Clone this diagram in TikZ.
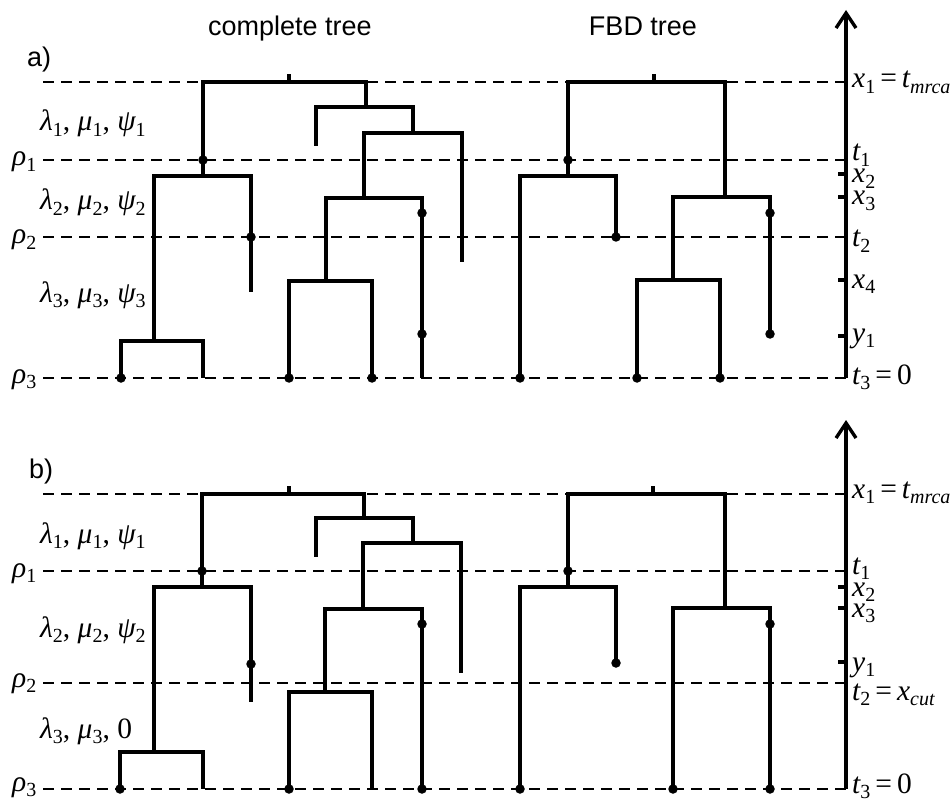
\documentclass[tikz,border=0pt]{standalone}
\usepackage{fontspec}
\setmainfont{Liberation Sans}
\newfontfamily\tms{Liberation Serif}
\usetikzlibrary{arrows.meta}
\newcommand{\iv}[1]{{\itshape #1}}
\newcommand{\sbs}[1]{\raisebox{-5.5pt}{\fontsize{20}{20}\selectfont #1}}
\newcommand{\eqs}{\hspace{5pt}={}\hspace{5pt}}
\tikzset{
  br/.style={line width=3.4pt},
  dl/.style={line width=2.4pt, dash pattern=on 11pt off 7pt},
  axisline/.style={line width=3.4pt, -{Straight Barb[length=15pt,width=20pt,line width=3.4pt]}},
  tk/.style={line width=3.4pt},
  dot/.style={circle, fill=black, inner sep=0pt, minimum size=9.5pt},
  mlab/.style={font=\tms\fontsize{29.5}{31}\selectfont, inner sep=0pt, anchor=base west},
  slab/.style={font=\fontsize{27}{29}\selectfont, inner sep=0pt, anchor=base},
}
\begin{document}
\begin{tikzpicture}[x=1pt,y=-1pt]
\useasboundingbox (0,0) rectangle (950,802);
\fill[white] (0,0) rectangle (950,802);

% ---------------- titles ----------------
\node[slab] (ttlA) at (290,36) {complete tree};
\node[slab] (ttlB) at (643,36) {FBD tree};
\node[slab, anchor=base west] (pa) at (27,67) {a)};
\node[slab, anchor=base west] (pb) at (29,478) {b)};

% ================= PANEL A =================
\foreach \yy in {82,160,237,378} \draw[dl] (43,\yy) -- (846,\yy);
\coordinate (aAxB) at (846,378);
\coordinate (aAxT) at (846,10);
\draw[axisline] (aAxB) -- (aAxT);
\foreach \yy in {174,197,280,336} \draw[tk] (846,\yy) -- (838,\yy);

% complete tree a
\coordinate (aR) at (289,82);
\coordinate (aRt) at (289,74);
\coordinate (aA) at (203,176);
\coordinate (aB) at (366,107);
\coordinate (aA1) at (154,341);
\coordinate (aA2) at (251,292);
\coordinate (aL1) at (121,378);
\coordinate (aL2) at (203,378);
\coordinate (aB1) at (316,146);
\coordinate (aB2) at (413,133);
\coordinate (aC1) at (364,198);
\coordinate (aC2) at (462,262);
\coordinate (aD1) at (326,281);
\coordinate (aD2) at (422,378);
\coordinate (aL3) at (289,378);
\coordinate (aL4) at (372,378);
\draw[br] (aR) -- (aRt);
\draw[br] (aR) -| (aA);
\draw[br] (aR) -| (aB);
\draw[br] (aA) -| (aA1);
\draw[br] (aA) -| (aA2);
\draw[br] (aA1) -| (aL1);
\draw[br] (aA1) -| (aL2);
\draw[br] (aB) -| (aB1);
\draw[br] (aB) -| (aB2);
\draw[br] (aB2) -| (aC1);
\draw[br] (aB2) -| (aC2);
\draw[br] (aC1) -| (aD1);
\draw[br] (aC1) -| (aD2);
\draw[br] (aD1) -| (aL3);
\draw[br] (aD1) -| (aL4);
\node[dot] (adot1) at (203,160) {};
\node[dot] (adot2) at (251,237) {};
\node[dot] (adot3) at (121,378) {};
\node[dot] (adot4) at (289,378) {};
\node[dot] (adot5) at (372,378) {};
\node[dot] (adot6) at (422,213) {};
\node[dot] (adot7) at (422,334) {};

% FBD tree a
\coordinate (fR) at (654,82);
\coordinate (fRt) at (654,74);
\coordinate (fE) at (568,176);
\coordinate (fF) at (725,197);
\coordinate (fE1) at (520,378);
\coordinate (fE2) at (616,237);
\coordinate (fG) at (673,280);
\coordinate (fH) at (770,334);
\coordinate (fG1) at (637,378);
\coordinate (fG2) at (720,378);
\draw[br] (fR) -- (fRt);
\draw[br] (fR) -| (fE);
\draw[br] (fR) -| (fF);
\draw[br] (fE) -| (fE1);
\draw[br] (fE) -| (fE2);
\draw[br] (fF) -| (fG);
\draw[br] (fF) -| (fH);
\draw[br] (fG) -| (fG1);
\draw[br] (fG) -| (fG2);
\node[dot] (fdot1) at (568,160) {};
\node[dot] (fdot2) at (520,378) {};
\node[dot] (fdot3) at (616,237) {};
\node[dot] (fdot4) at (770,213) {};
\node[dot] (fdot5) at (770,334) {};
\node[dot] (fdot6) at (637,378) {};
\node[dot] (fdot7) at (720,378) {};

% labels a
\node[mlab] (ar1) at (12,166) {\iv{ρ}\sbs{1}};
\node[mlab] (ar2) at (12,244) {\iv{ρ}\sbs{2}};
\node[mlab] (ar3) at (12,383) {\iv{ρ}\sbs{3}};
\node[mlab] (al1) at (40,131) {\iv{λ}\sbs{1}, \iv{μ}\sbs{1}, \iv{ψ}\sbs{1}};
\node[mlab] (al2) at (40,210) {\iv{λ}\sbs{2}, \iv{μ}\sbs{2}, \iv{ψ}\sbs{2}};
\node[mlab] (al3) at (40,302) {\iv{λ}\sbs{3}, \iv{μ}\sbs{3}, \iv{ψ}\sbs{3}};
\node[mlab] (ax1) at (852,88) {\iv{x}\sbs{1}\eqs\iv{t}\sbs{\itshape mrca}};
\node[mlab] (at1) at (852,161) {\iv{t}\sbs{1}};
\node[mlab] (ax2) at (852,183) {\iv{x}\sbs{2}};
\node[mlab] (ax3) at (852,205) {\iv{x}\sbs{3}};
\node[mlab] (at2) at (852,247) {\iv{t}\sbs{2}};
\node[mlab] (ax4) at (852,288) {\iv{x}\sbs{4}};
\node[mlab] (ay1) at (852,342) {\iv{y}\sbs{1}};
\node[mlab] (at3) at (852,384) {\iv{t}\sbs{3}\eqs 0};

% ================= PANEL B =================
\foreach \yy in {494,571,683,789} \draw[dl] (43,\yy) -- (846,\yy);
\coordinate (bAxB) at (846,789);
\coordinate (bAxT) at (846,420);
\draw[axisline] (bAxB) -- (bAxT);
\foreach \yy in {587,608,662} \draw[tk] (846,\yy) -- (838,\yy);

% complete tree b
\coordinate (bR) at (289,494);
\coordinate (bRt) at (289,486);
\coordinate (bA) at (202,587);
\coordinate (bB) at (364,518);
\coordinate (bA1) at (154,752);
\coordinate (bA2) at (251,702);
\coordinate (bL1) at (120,789);
\coordinate (bL2) at (203,789);
\coordinate (bB1) at (316,557);
\coordinate (bB2) at (413,543);
\coordinate (bC1) at (363,609);
\coordinate (bC2) at (461,673);
\coordinate (bD1) at (325,692);
\coordinate (bD2) at (422,789);
\coordinate (bL3) at (289,789);
\coordinate (bL4) at (372,789);
\draw[br] (bR) -- (bRt);
\draw[br] (bR) -| (bA);
\draw[br] (bR) -| (bB);
\draw[br] (bA) -| (bA1);
\draw[br] (bA) -| (bA2);
\draw[br] (bA1) -| (bL1);
\draw[br] (bA1) -| (bL2);
\draw[br] (bB) -| (bB1);
\draw[br] (bB) -| (bB2);
\draw[br] (bB2) -| (bC1);
\draw[br] (bB2) -| (bC2);
\draw[br] (bC1) -| (bD1);
\draw[br] (bC1) -| (bD2);
\draw[br] (bD1) -| (bL3);
\draw[br] (bD1) -| (bL4);
\node[dot] (bdot1) at (202,571) {};
\node[dot] (bdot2) at (251,664) {};
\node[dot] (bdot3) at (120,789) {};
\node[dot] (bdot4) at (289,789) {};
\node[dot] (bdot5) at (422,624) {};
\node[dot] (bdot6) at (422,789) {};

% FBD tree b
\coordinate (gR) at (653,494);
\coordinate (gRt) at (653,486);
\coordinate (gE) at (568,587);
\coordinate (gF) at (725,608);
\coordinate (gE1) at (520,789);
\coordinate (gE2) at (616,663);
\coordinate (gF1) at (673,789);
\coordinate (gF2) at (770,789);
\draw[br] (gR) -- (gRt);
\draw[br] (gR) -| (gE);
\draw[br] (gR) -| (gF);
\draw[br] (gE) -| (gE1);
\draw[br] (gE) -| (gE2);
\draw[br] (gF) -| (gF1);
\draw[br] (gF) -| (gF2);
\node[dot] (gdot1) at (568,571) {};
\node[dot] (gdot2) at (520,789) {};
\node[dot] (gdot3) at (616,663) {};
\node[dot] (gdot4) at (673,789) {};
\node[dot] (gdot5) at (770,624) {};
\node[dot] (gdot6) at (770,789) {};

% labels b
\node[mlab] (br1) at (12,577) {\iv{ρ}\sbs{1}};
\node[mlab] (br2) at (12,687) {\iv{ρ}\sbs{2}};
\node[mlab] (br3) at (12,791) {\iv{ρ}\sbs{3}};
\node[mlab] (bl1) at (40,543) {\iv{λ}\sbs{1}, \iv{μ}\sbs{1}, \iv{ψ}\sbs{1}};
\node[mlab] (bl2) at (40,637) {\iv{λ}\sbs{2}, \iv{μ}\sbs{2}, \iv{ψ}\sbs{2}};
\node[mlab] (bl3) at (40,738) {\iv{λ}\sbs{3}, \iv{μ}\sbs{3}, 0};
\node[mlab] (bx1) at (852,498) {\iv{x}\sbs{1}\eqs\iv{t}\sbs{\itshape mrca}};
\node[mlab] (bt1) at (852,574) {\iv{t}\sbs{1}};
\node[mlab] (bx2) at (852,596) {\iv{x}\sbs{2}};
\node[mlab] (bx3) at (852,617) {\iv{x}\sbs{3}};
\node[mlab] (by1) at (852,671) {\iv{y}\sbs{1}};
\node[mlab] (bt2) at (852,700) {\iv{t}\sbs{2}\eqs\iv{x}\sbs{\itshape cut}};
\node[mlab] (bt3) at (852,793) {\iv{t}\sbs{3}\eqs 0};
\end{tikzpicture}
\end{document}
